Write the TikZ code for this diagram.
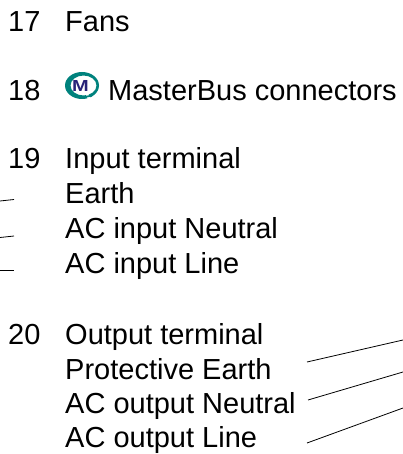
\documentclass[tikz,border=0pt]{standalone}
\usepackage{fontspec}
\setmainfont{Liberation Sans}
\definecolor{logoteal}{RGB}{0,130,125}
\definecolor{logonavy}{RGB}{40,35,120}
\tikzset{
	label/.style={anchor=base west,inner sep=0pt,font=\fontsize{29}{32}\selectfont},
	leader/.style={draw,line width=0.8pt}
}
\begin{document}
\begin{tikzpicture}[x=1pt,y=-1pt]
	\useasboundingbox (0,0) rectangle (403,454);
	\node[label](n17) at (8,32){17};
	\node[label](fans) at (65,32){Fans};
	\node[label](n18) at (8,101){18};
	\node[label](bus) at (108,101){MasterBus connectors};
	\node[label](n19) at (8,169){19};
	\node[label](input) at (65,169){Input terminal};
	\node[label](inearth) at (65,204){Earth};
	\node[label](inneutral) at (65,238.5){AC input Neutral};
	\node[label](inline) at (65,273){AC input Line};
	\node[label](n20) at (8,344){20};
	\node[label](output) at (65,344){Output terminal};
	\node[label](outearth) at (65,379){Protective Earth};
	\node[label](outneutral) at (65,413){AC output Neutral};
	\node[label](outline) at (65,447){AC output Line};
	% logo
	\fill[logoteal,even odd rule] (82,85.5) ellipse [x radius=17,y radius=13.5]
		(83.5,85.5) ellipse [x radius=13,y radius=10];
	\draw[white,line width=2.5pt] (87,94) -- (90,101);
	\draw[logoteal,line width=1.8pt] (85,97) -- (92,95.5);
	\node[inner sep=0pt,text=logonavy,draw=logonavy,line width=0.3pt,font=\fontsize{16}{16}\selectfont\bfseries,xscale=1.25,draw=none](logo) at (80.5,86){M};
	% leaders
	\coordinate (a1) at (0,201);
	\coordinate (a2) at (14,199.5);
	\coordinate (b1) at (0,237.5);
	\coordinate (b2) at (14,236);
	\coordinate (c1) at (0,270);
	\coordinate (c2) at (14,270);
	\coordinate (d1) at (307,362);
	\coordinate (d2) at (403,340);
	\coordinate (e1) at (308,400);
	\coordinate (e2) at (403,372);
	\coordinate (f1) at (307,443);
	\coordinate (f2) at (403,408);
	\draw[leader] (a1) -- (a2);
	\draw[leader] (b1) -- (b2);
	\draw[leader] (c1) -- (c2);
	\draw[leader] (d1) -- (d2);
	\draw[leader] (e1) -- (e2);
	\draw[leader] (f1) -- (f2);
\end{tikzpicture}
\end{document}
